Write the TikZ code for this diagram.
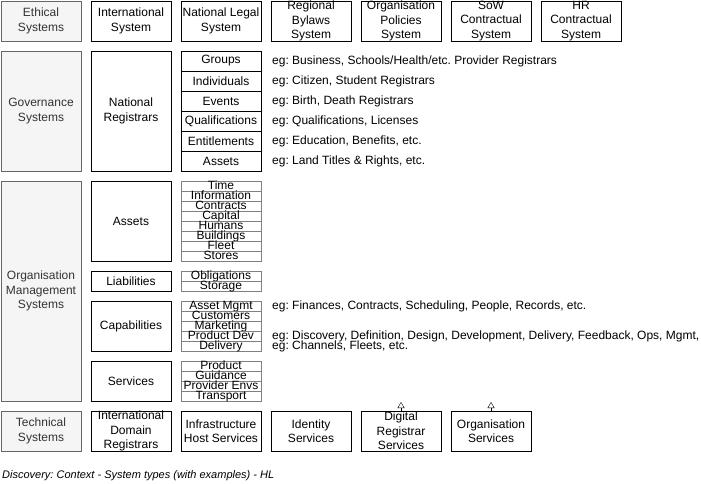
\documentclass[tikz,border=0pt]{standalone}
\usepackage{fontspec}
\setmainfont{Liberation Sans}
\usepackage{tikz}
\usetikzlibrary{positioning, arrows.meta}
\usepackage{xcolor}
\definecolor{kindfill}{HTML}{F5F5F5}
\definecolor{kindline}{HTML}{666666}
\definecolor{kindtext}{HTML}{333333}
\frenchspacing

\begin{document}
\begin{tikzpicture}[x=1pt, y=-1pt, font=\fontsize{12}{14.4}\selectfont,
    every node/.style={inner sep=0pt, align=center},
    system/.style={draw, minimum width=80pt, minimum height=40pt},
    kind/.style={system, fill=kindfill, draw=kindline, text=kindtext},
    part/.style={draw, minimum width=80pt, minimum height=20pt},
    item/.style={draw=gray, minimum width=80pt, minimum height=10pt, text height=8.5pt, text depth=1.5pt},
    example/.style={anchor=west}]
    \useasboundingbox (0,0) rectangle (701,483);

    % kinds of systems
    \node[kind] (ethical) at (41,21) {Ethical\\Systems};
    \node[kind, minimum height=120pt] (governance) at (41,111) {Governance\\Systems};
    \node[kind, minimum height=220pt] (organisation) at (41,291) {Organisation\\Management\\Systems};
    \node[kind] (technical) at (41,431) {Technical\\Systems};

    % ethical systems
    \node[system] (international) at (131,21) {International\\System};
    \node[system] (legal) at (221,21) {National Legal\\System};
    \node[system] (bylaws) at (311,21) {Regional\\Bylaws\\System};
    \node[system] (policies) at (401,21) {Organisation\\Policies\\System};
    \node[system] (sow) at (491,21) {SoW\\Contractual\\System};
    \node[system] (hr) at (581,21) {HR\\Contractual\\System};

    % governance systems
    \node[system, minimum height=120pt] (registrars) at (131,111) {National\\Registrars};
    \node[part] (groups) at (221,61) {Groups};
    \node[part] (individuals) at (221,81) {Individuals};
    \node[part] (events) at (221,101) {Events};
    \node[part] (qualifications) at (221,121) {Qualifications};
    \node[part] (entitlements) at (221,141) {Entitlements};
    \node[part] (landassets) at (221,161) {Assets};
    \node[example] (groups eg) at (272,61) {eg: Business, Schools/Health/etc. Provider Registrars};
    \node[example] (individuals eg) at (272,81) {eg: Citizen, Student Registrars};
    \node[example] (events eg) at (272,101) {eg: Birth, Death Registrars};
    \node[example] (qualifications eg) at (272,121) {eg: Qualifications, Licenses};
    \node[example] (entitlements eg) at (272,141) {eg: Education, Benefits, etc.};
    \node[example] (landassets eg) at (272,161) {eg: Land Titles \& Rights, etc.};

    % organisation management systems
    \node[system, minimum height=80pt] (assets) at (131,221) {Assets};
    \node[item] (time) at (221,186) {Time};
    \node[item] (information) at (221,196) {Information};
    \node[item] (contracts) at (221,206) {Contracts};
    \node[item] (capital) at (221,216) {Capital};
    \node[item] (humans) at (221,226) {Humans};
    \node[item] (buildings) at (221,236) {Buildings};
    \node[item] (fleet) at (221,246) {Fleet};
    \node[item] (stores) at (221,256) {Stores};

    \node[system, minimum height=20pt] (liabilities) at (131,281) {Liabilities};
    \node[item] (obligations) at (221,276) {Obligations};
    \node[item] (storage) at (221,286) {Storage};

    \node[system, minimum height=50pt] (capabilities) at (131,326) {Capabilities};
    \node[item] (assetmgmt) at (221,306) {Asset Mgmt};
    \node[item] (customers) at (221,316) {Customers};
    \node[item] (marketing) at (221,326) {Marketing};
    \node[item] (productdev) at (221,336) {Product Dev};
    \node[item] (delivery) at (221,346) {Delivery};
    \node[example] (assetmgmt eg) at (272,306) {eg: Finances, Contracts, Scheduling, People, Records, etc.};
    \node[example] (productdev eg) at (272,336) {eg: Discovery, Definition, Design, Development, Delivery, Feedback, Ops, Mgmt,};
    \node[example] (delivery eg) at (272,346) {eg: Channels, Fleets, etc.};

    \node[system] (services) at (131,381) {Services};
    \node[item] (product) at (221,366) {Product};
    \node[item] (guidance) at (221,376) {Guidance};
    \node[item] (providerenvs) at (221,386) {Provider Envs};
    \node[item] (transport) at (221,396) {Transport};

    % technical systems
    \node[system] (domains) at (131,431) {International\\Domain\\Registrars};
    \node[system] (hosts) at (221,431) {Infrastructure\\Host Services};
    \node[system] (identity) at (311,431) {Identity\\Services};
    \node[system] (digital) at (401,431) {Digital\\Registrar\\Services};
    \node[system] (orgservices) at (491,431) {Organisation\\Services};

    \coordinate (digital top) at (401,402);
    \coordinate (orgservices top) at (491,402);
    \path[-{Triangle[open, width=7pt, length=6pt]}]
        (digital) edge (digital top)
        (orgservices) edge (orgservices top);

    \node[anchor=west, font=\fontsize{11}{13}\selectfont\itshape] (caption) at (2,476)
        {Discovery: Context - System types (with examples) - HL};
\end{tikzpicture}
\end{document}
